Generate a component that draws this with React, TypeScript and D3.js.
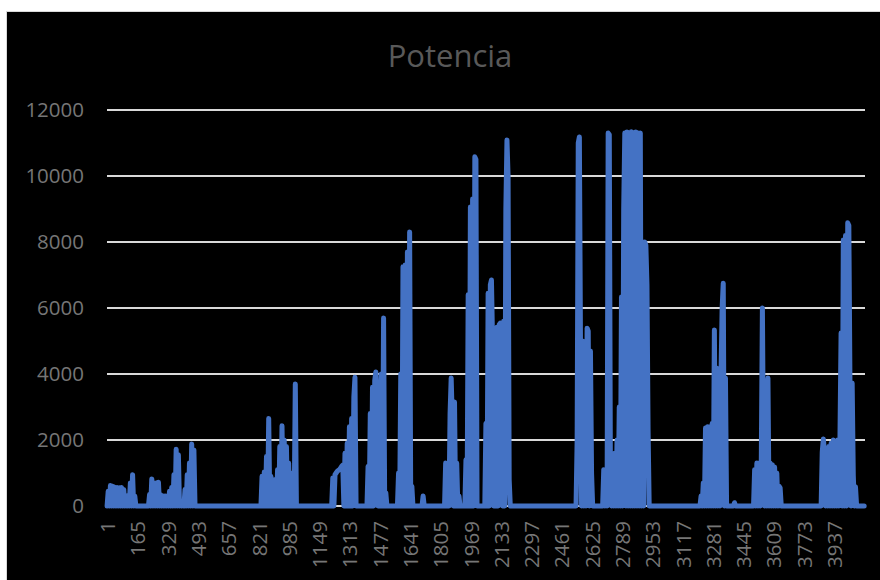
import { useEffect, useRef } from "react";
import * as d3 from "d3";

const chartTitle = "Potencia";
const pointCount = 4104;
const lastRow = 4100;
const rowStep = 6;
const xTickLabels = [1, 165, 329, 493, 657, 821, 985, 1149, 1313, 1477, 1641, 1805, 1969, 2133, 2297, 2461, 2625, 2789, 2953, 3117, 3281, 3445, 3609, 3773, 3937];
const yTicks = [0, 2000, 4000, 6000, 8000, 10000, 12000];

// Each burst: first row, then the readings every `rowStep` rows (the series swings
// between 0 and its envelope, which is what makes the bursts look solid).
const burstA1 = { start: 1, values: [0, 450, 0, 620, 0, 600, 0, 565, 0, 560, 0, 555, 0, 560, 0, 500, 0, 210, 0, 320, 0, 700, 0, 950, 0, 300, 0] };
const burstA2 = { start: 225, values: [0, 350, 0, 820, 0, 700, 0, 700, 0, 720, 0, 340, 0, 300, 0, 300, 0, 300, 0, 450, 0, 560, 0, 950, 0, 1720, 0, 1550, 0, 100, 0, 140, 0, 500, 0, 950, 0, 1300, 0, 1880, 0, 1700, 0] };
const burstB = { start: 834, values: [0, 900, 0, 1030, 0, 1500, 0, 2650, 0, 900, 0, 0, 0, 800, 0, 1100, 0, 1800, 0, 2430, 0, 2000, 0, 1800, 0, 1300, 0, 1000, 0, 600, 0, 3700, 0] };
const burstC = { start: 1217, values: [0, 850, 0, 950, 1000, 1050, 1080, 1100, 1150, 1200, 1240, 0, 1600, 0, 1900, 0, 2400, 0, 2650, 0, 3300, 3900, 0] };
const burstD = { start: 1408, values: [0, 1200, 0, 2800, 0, 3600, 0, 3800, 4060, 3500, 0, 800, 0, 4000, 0, 5700, 0, 400, 0] };
const burstE = { start: 1573, values: [0, 1000, 0, 4000, 0, 7250, 0, 7300, 0, 7700, 0, 8300, 0, 600, 0] };
const bumpE = { start: 1706, values: [0, 300, 0] };
const burstF = { start: 1828, values: [0, 1300, 0, 1250, 0, 2800, 3880, 2600, 0, 3150, 0, 1300, 0, 300, 0] };
const burstG = { start: 1938, values: [0, 1400, 0, 6400, 0, 9060, 0, 9300, 0, 10580, 10500, 0] };
const burstH = { start: 2046, values: [0, 2500, 0, 6450, 0, 6700, 6850, 5000, 0, 4500, 0, 5420, 0, 5500, 5540, 2000, 0, 5600, 0, 9000, 11090, 10000, 800, 0] };
const burstI = { start: 2540, values: [0, 2000, 11000, 11180, 5000, 0, 5000, 0, 4800, 0, 5390, 5300, 0, 4700, 1000, 0] };
const burstJ = { start: 2684, values: [0, 1100, 0, 1000, 0, 11300, 11250, 1090, 0, 1100, 0, 1600, 0, 2000, 0, 3000, 0, 6330, 0, 9000, 11300, 0, 11330, 0, 11300, 0, 11340, 0, 11300, 0, 11330, 0, 11300, 0, 11300, 0, 8000, 0, 8000, 7900, 6700, 2300, 0] };
const burstK = { start: 3211, values: [0, 300, 0, 700, 0, 2360, 0, 2400, 0, 2400, 0, 2500, 0, 5330, 0, 4180, 0, 4100, 0, 4000, 6000, 6750, 0, 3880, 0] };
const bumpK = { start: 3392, values: [0, 100, 0] };
const burstL = { start: 3501, values: [0, 1100, 0, 1300, 0, 1300, 0, 1350, 6000, 1300, 0, 1250, 0, 3880, 0, 1300, 0, 1250, 0, 1180, 0, 1000, 0, 600, 550, 0] };
const burstM = { start: 3867, values: [0, 1640, 2030, 1650, 0, 1700, 0, 1800, 0, 1900, 0, 2000, 0, 1900, 0, 2000, 0, 2100, 5240, 0, 8060, 0, 8200, 0, 8580, 8500, 3730, 0, 3730, 940, 0, 580, 0] };

const bursts = [burstA1, burstA2, burstB, burstC, burstD, burstE, bumpE, burstF, burstG, burstH, burstI, burstJ, burstK, bumpK, burstL, burstM];

function buildSeries(): [number, number][] {
  const rows: [number, number][] = [];
  bursts.forEach(b => b.values.forEach((v, k) => rows.push([b.start + k * rowStep, v])));
  rows.push([lastRow, 0]);
  return rows;
}

function render(svgEl: SVGSVGElement) {
  const width = 880;
  const height = 580;
  const font = "'Open Sans', 'Noto Sans', sans-serif";

  const svg = d3.select(svgEl).attr("width", width).attr("height", height);
  svg.selectAll("*").remove();

  svg.append("rect").attr("width", width).attr("height", height).attr("fill", "#fff");
  svg.append("rect")
    .attr("x", 6.5).attr("y", 11.5)
    .attr("width", width).attr("height", height)
    .attr("fill", "#000")
    .attr("stroke", "#d9d9d9");

  const x = d3.scaleLinear().domain([0.5, pointCount + 0.5]).range([107, 865]);
  const y = d3.scaleLinear().domain([0, 12000]).range([506, 110]);

  svg.append("text")
    .attr("x", 450).attr("y", 67)
    .attr("text-anchor", "middle")
    .attr("font-family", font)
    .attr("font-size", 31)
    .attr("fill", "#595959")
    .text(chartTitle);

  svg.append("g").selectAll("line")
    .data(yTicks)
    .enter().append("line")
    .attr("x1", x.range()[0]).attr("x2", x.range()[1])
    .attr("y1", d => y(d)).attr("y2", d => y(d))
    .attr("stroke", "#d9d9d9")
    .attr("stroke-width", 2);

  svg.append("g").selectAll("text")
    .data(yTicks)
    .enter().append("text")
    .attr("x", 84).attr("y", d => y(d) + 7)
    .attr("text-anchor", "end")
    .attr("font-family", font)
    .attr("font-size", 20.5)
    .attr("fill", "#767676")
    .text(d => String(d));

  svg.append("g").selectAll("text")
    .data(xTickLabels)
    .enter().append("text")
    .attr("transform", d => `translate(${x(d) + 8},521) rotate(-90)`)
    .attr("text-anchor", "end")
    .attr("font-family", font)
    .attr("font-size", 20.5)
    .attr("fill", "#767676")
    .text(d => String(d));

  const line = d3.line<[number, number]>()
    .x(d => x(d[0]))
    .y(d => y(d[1]));

  svg.append("path")
    .attr("d", line(buildSeries()))
    .attr("fill", "none")
    .attr("stroke", "#4472C4")
    .attr("stroke-width", 5)
    .attr("stroke-linejoin", "round")
    .attr("stroke-linecap", "round");
}

export default function App() {
  const svgRef = useRef<SVGSVGElement | null>(null);
  useEffect(() => {
    if (svgRef.current) render(svgRef.current);
  }, []);
  return (
    <div style={{ position: "absolute", left: 0, top: 0 }}>
      <svg ref={svgRef} style={{ display: "block" }}></svg>
    </div>
  );
}
